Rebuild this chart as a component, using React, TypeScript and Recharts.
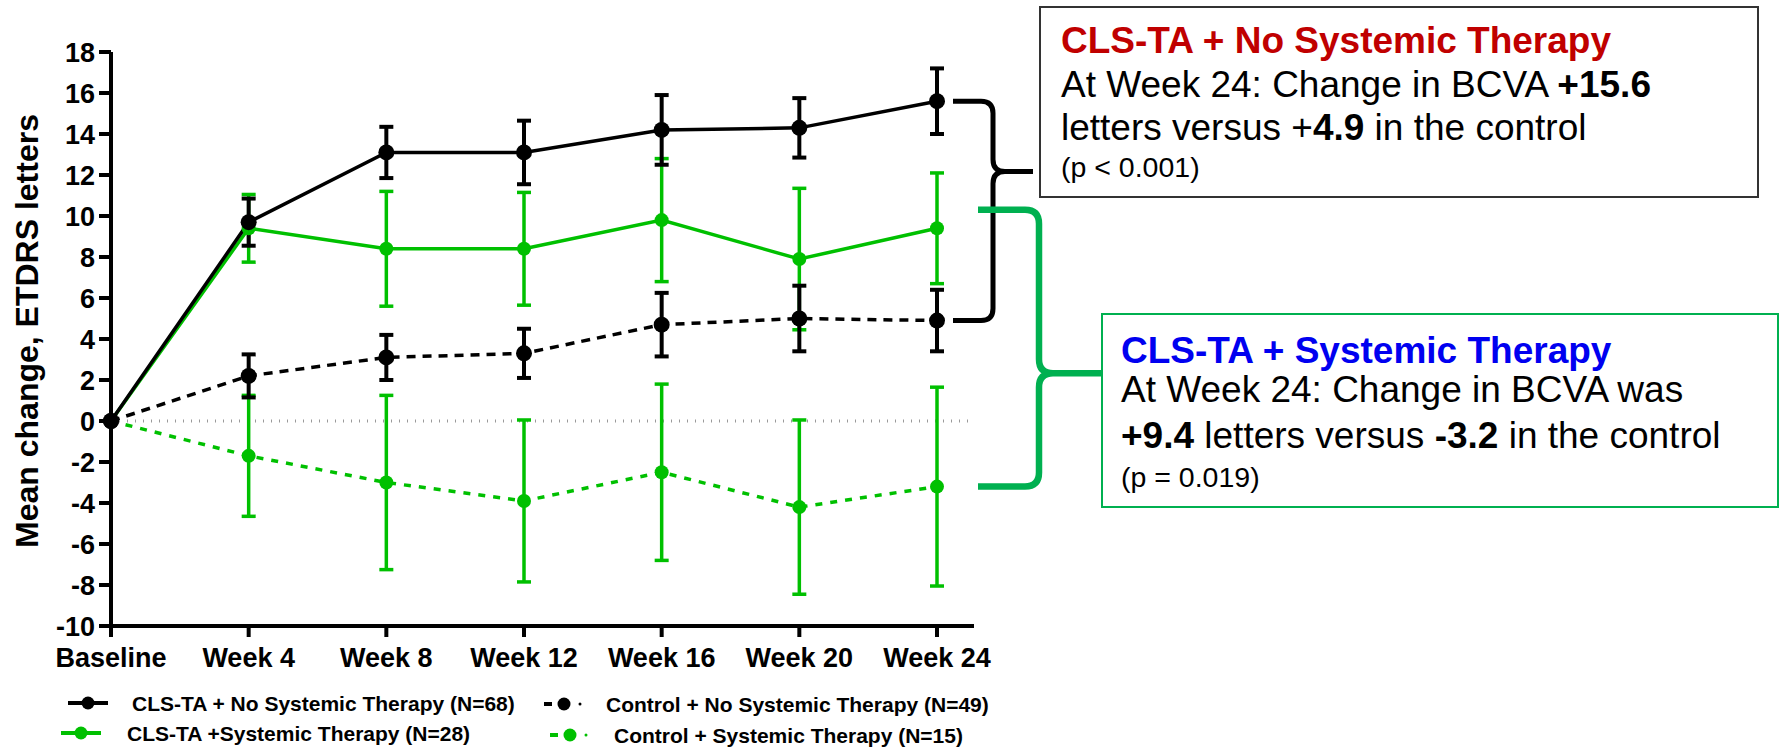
import React from 'react';
import { LineChart, Line, XAxis, YAxis, ErrorBar, ReferenceLine, ReferenceArea } from 'recharts';

// ---------- data ----------
const categories = ['Baseline', 'Week 4', 'Week 8', 'Week 12', 'Week 16', 'Week 20', 'Week 24'];
const clsNoSys = [0, 9.7, 13.1, 13.1, 14.2, 14.3, 15.6];
const clsNoSysErr = [0, 1.15, 1.25, 1.55, 1.7, 1.45, 1.6];
const ctrlNoSys = [0, 2.2, 3.1, 3.3, 4.7, 5.0, 4.9];
const ctrlNoSysErr = [0, 1.05, 1.1, 1.2, 1.55, 1.6, 1.5];
const clsSys = [0, 9.4, 8.4, 8.4, 9.8, 7.9, 9.4];
const clsSysErr = [0, 1.65, 2.8, 2.75, 3.0, 3.45, 2.7];
const ctrlSys = [0, -1.7, -3.0, -3.9, -2.5, -4.2, -3.2];
const ctrlSysErr = [0, 2.95, 4.25, 3.95, 4.3, 4.25, 4.85];
const yTicks = [-10, -8, -6, -4, -2, 0, 2, 4, 6, 8, 10, 12, 14, 16, 18];
const seriesNames = [
  'CLS-TA + No Systemic Therapy (N=68)',
  'Control + No Systemic Therapy (N=49)',
  'CLS-TA +Systemic Therapy (N=28)',
  'Control + Systemic Therapy (N=15)',
];
// brace annotation value ranges
const blackBraceRange = [4.9, 15.6];
const greenBraceRange = [-3.2, 10.3];

const data = categories.map((name, i) => ({
  name,
  a: clsNoSys[i], aErr: clsNoSysErr[i],
  b: ctrlNoSys[i], bErr: ctrlNoSysErr[i],
  c: clsSys[i], cErr: clsSysErr[i],
  d: ctrlSys[i], dErr: ctrlSysErr[i],
}));

const FONT = "'Liberation Sans', Arial, Helvetica, sans-serif";
const BLACK = '#000000';
const GREEN = '#00C000';
const BRACE_GREEN = '#00B050';

const makeBrace = (o: { endDx: number; vertDx: number; tipDx: number; tipFrac: number; r: number; sw: number; color: string }) =>
  (props: any) => {
    const { x, y, height } = props;
    if (x == null || y == null || height == null) return null;
    const x0 = x + o.endDx;
    const xv = x + o.vertDx;
    const xt = x + o.tipDx;
    const yTop = y;
    const yBot = y + height;
    const yTip = y + height * o.tipFrac;
    const r = o.r;
    const d = `M${x0},${yTop} L${xv - r},${yTop} Q${xv},${yTop} ${xv},${yTop + r} L${xv},${yTip - r} Q${xv},${yTip} ${xv + r},${yTip} L${xt},${yTip} M${xv + r},${yTip} Q${xv},${yTip} ${xv},${yTip + r} L${xv},${yBot - r} Q${xv},${yBot} ${xv - r},${yBot} L${x0},${yBot}`;
    return <path d={d} fill="none" stroke={o.color} strokeWidth={o.sw} strokeLinecap="butt" strokeLinejoin="round" />;
  };

const legendLayout = [
  { idx: 0, color: BLACK, dashed: false, sx: 68, sy: 703, tx: 132, ty: 711 },
  { idx: 1, color: BLACK, dashed: true, sx: 544, sy: 704, tx: 606, ty: 712 },
  { idx: 2, color: GREEN, dashed: false, sx: 61, sy: 733, tx: 127, ty: 741 },
  { idx: 3, color: GREEN, dashed: true, sx: 550, sy: 735, tx: 614, ty: 743 },
];

export default function App() {
  const tickStyle = { fontSize: 27, fontWeight: 'bold', fill: '#000', fontFamily: FONT };
  return (
    <div style={{ position: 'absolute', left: 0, top: 0, width: 1781, height: 748, background: '#fff' }}>
      <LineChart
        width={1781}
        height={748}
        data={data}
        margin={{ top: 52, right: 807, bottom: 82, left: 0 }}
      >
        <XAxis
          dataKey="name"
          interval={0}
          padding={{ left: 0, right: 37 }}
          height={40}
          tickSize={11}
          tickMargin={11}
          tick={tickStyle}
          axisLine={{ stroke: '#000', strokeWidth: 4 }}
          tickLine={{ stroke: '#000', strokeWidth: 4 }}
        />
        <YAxis
          type="number"
          domain={[-10, 18]}
          ticks={yTicks}
          interval={0}
          width={111}
          tickSize={12}
          tickMargin={4}
          tick={tickStyle}
          axisLine={{ stroke: '#000', strokeWidth: 4 }}
          tickLine={{ stroke: '#000', strokeWidth: 4 }}
        />
        <ReferenceLine y={0} stroke="#9a9a9a" strokeWidth={3} strokeDasharray="1 7" />
        <Line
          dataKey="d"
          name={seriesNames[3]}
          stroke={GREEN}
          strokeWidth={3.5}
          strokeDasharray="7 8"
          dot={{ r: 7, fill: GREEN, stroke: GREEN, strokeWidth: 0 }}
          activeDot={false}
          isAnimationActive={false}
        >
          <ErrorBar dataKey="dErr" width={7} stroke={GREEN} strokeWidth={3.5} direction="y" />
        </Line>
        <Line
          dataKey="c"
          name={seriesNames[2]}
          stroke={GREEN}
          strokeWidth={3.5}
          dot={{ r: 7, fill: GREEN, stroke: GREEN, strokeWidth: 0 }}
          activeDot={false}
          isAnimationActive={false}
        >
          <ErrorBar dataKey="cErr" width={7} stroke={GREEN} strokeWidth={3.5} direction="y" />
        </Line>
        <Line
          dataKey="b"
          name={seriesNames[1]}
          stroke={BLACK}
          strokeWidth={3.5}
          strokeDasharray="9 7"
          dot={{ r: 8, fill: BLACK, stroke: BLACK, strokeWidth: 0 }}
          activeDot={false}
          isAnimationActive={false}
        >
          <ErrorBar dataKey="bErr" width={7} stroke={BLACK} strokeWidth={4} direction="y" />
        </Line>
        <Line
          dataKey="a"
          name={seriesNames[0]}
          stroke={BLACK}
          strokeWidth={3.5}
          dot={{ r: 8, fill: BLACK, stroke: BLACK, strokeWidth: 0 }}
          activeDot={false}
          isAnimationActive={false}
        >
          <ErrorBar dataKey="aErr" width={7} stroke={BLACK} strokeWidth={4} direction="y" />
        </Line>
        <ReferenceArea
          x1="Week 24"
          x2="Week 24"
          y1={blackBraceRange[0]}
          y2={blackBraceRange[1]}
          ifOverflow="visible"
          shape={makeBrace({ endDx: 16, vertDx: 56, tipDx: 96, tipFrac: 0.32, r: 12, sw: 5, color: BLACK })}
        />
        <ReferenceArea
          x1="Week 24"
          x2="Week 24"
          y1={greenBraceRange[0]}
          y2={greenBraceRange[1]}
          ifOverflow="visible"
          shape={makeBrace({ endDx: 41, vertDx: 102, tipDx: 165, tipFrac: 0.59, r: 14, sw: 6.5, color: BRACE_GREEN })}
        />
      </LineChart>

      <svg
        width={1781}
        height={748}
        style={{ position: 'absolute', left: 0, top: 0, pointerEvents: 'none' }}
        fontFamily={FONT}
      >
        {/* y-axis title */}
        <text
          x={38}
          y={331}
          transform="rotate(-90 38 331)"
          textAnchor="middle"
          fontSize={32}
          fontWeight="bold"
          fill="#000"
        >
          Mean change, ETDRS letters
        </text>

        {/* black annotation box */}
        <rect x={1040} y={7} width={718} height={190} fill="#fff" stroke="#333" strokeWidth={2} />
        <text x={1061} y={53} fontSize={37} fontWeight="bold" fill="#C00000">CLS-TA + No Systemic Therapy</text>
        <text x={1061} y={97} fontSize={37} fill="#000">
          At Week 24: Change in BCVA <tspan fontWeight="bold">+15.6</tspan>
        </text>
        <text x={1061} y={140} fontSize={37} fill="#000">
          letters versus +<tspan fontWeight="bold">4.9</tspan> in the control
        </text>
        <text x={1061} y={177} fontSize={28.5} fill="#000">(p &lt; 0.001)</text>

        {/* green annotation box */}
        <rect x={1102} y={314} width={676} height={193} fill="#fff" stroke={BRACE_GREEN} strokeWidth={2} />
        <text x={1121} y={363} fontSize={37} fontWeight="bold" fill="#0000F0">CLS-TA + Systemic Therapy</text>
        <text x={1121} y={402} fontSize={37} fill="#000">At Week 24: Change in BCVA was</text>
        <text x={1121} y={448} fontSize={37} fill="#000">
          <tspan fontWeight="bold">+9.4</tspan> letters versus <tspan fontWeight="bold">-3.2</tspan> in the control
        </text>
        <text x={1121} y={487} fontSize={28.5} fill="#000">(p = 0.019)</text>

        {/* legend */}
        {legendLayout.map((l) => (
          <g key={l.idx}>
            {l.dashed ? (
              <>
                <line x1={l.sx} y1={l.sy} x2={l.sx + 8} y2={l.sy} stroke={l.color} strokeWidth={4} />
                <circle cx={l.sx + 20} cy={l.sy} r={6.5} fill={l.color} />
                <circle cx={l.sx + 36} cy={l.sy} r={1.5} fill={l.color} />
              </>
            ) : (
              <>
                <line x1={l.sx} y1={l.sy} x2={l.sx + 40} y2={l.sy} stroke={l.color} strokeWidth={4} />
                <circle cx={l.sx + 20} cy={l.sy} r={6.5} fill={l.color} />
              </>
            )}
            <text x={l.tx} y={l.ty} fontSize={21} fontWeight="bold" fill="#000">
              {seriesNames[l.idx]}
            </text>
          </g>
        ))}
      </svg>
    </div>
  );
}
